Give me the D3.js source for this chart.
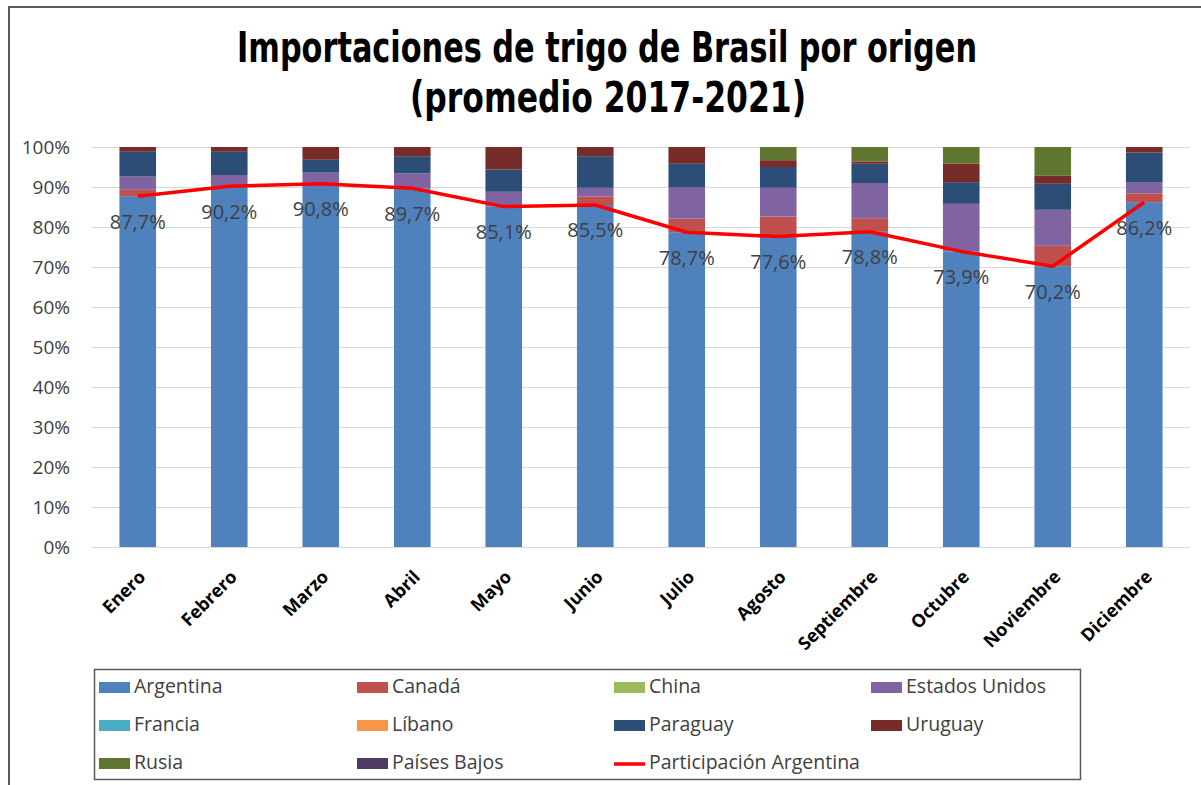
<!DOCTYPE html>
<html>
<head>
<meta charset="utf-8">
<script src="https://cdn.jsdelivr.net/npm/d3@7"></script>
<style>
  body { margin: 0; background: #fff; }
  svg { display: block; }
</style>
</head>
<body>
<div id="chart"></div>
<script>
// data (shares in %)
const months = ["Enero", "Febrero", "Marzo", "Abril", "Mayo", "Junio", "Julio", "Agosto", "Septiembre", "Octubre", "Noviembre", "Diciembre"];
const argentina = [87.7, 90.2, 90.8, 89.7, 85.1, 85.5, 78.7, 77.6, 78.8, 73.9, 70.2, 86.2];
const canada = [1.6, 0, 0, 0, 0, 2.1, 3.4, 5.0, 3.4, 0, 5.1, 2.2];
const china = [0, 0, 0, 0, 0, 0, 0, 0, 0, 0, 0, 0];
const estadosUnidos = [3.3, 2.8, 2.8, 3.7, 3.7, 2.2, 7.9, 7.2, 8.8, 11.9, 9.0, 2.7];
const francia = [0, 0, 0, 0, 0, 0, 0, 0, 0, 0, 0, 0];
const libano = [0, 0, 0, 0, 0, 0, 0, 0, 0, 0, 0, 0];
const paraguay = [6.2, 5.8, 3.2, 4.3, 5.6, 7.9, 5.8, 5.2, 4.8, 5.4, 6.5, 7.5];
const uruguay = [1.2, 1.2, 3.2, 2.3, 5.6, 2.3, 4.2, 1.7, 0.6, 4.6, 2.0, 1.4];
const rusia = [0, 0, 0, 0, 0, 0, 0, 3.3, 3.6, 4.2, 7.2, 0];
const paisesBajos = [0, 0, 0, 0, 0, 0, 0, 0, 0, 0, 0, 0];
const yTicks = [0, 10, 20, 30, 40, 50, 60, 70, 80, 90, 100];

const series = [
    { name: "Argentina", values: argentina, color: "#4F81BD" },
    { name: "Canadá", values: canada, color: "#C0504D" },
    { name: "China", values: china, color: "#9BBB59" },
    { name: "Estados Unidos", values: estadosUnidos, color: "#8064A2" },
    { name: "Francia", values: francia, color: "#4BACC6" },
    { name: "Líbano", values: libano, color: "#F79646" },
    { name: "Paraguay", values: paraguay, color: "#2C4D75" },
    { name: "Uruguay", values: uruguay, color: "#772C2A" },
    { name: "Rusia", values: rusia, color: "#5F7530" },
    { name: "Países Bajos", values: paisesBajos, color: "#4D3B62" }
];

// set dimensions
const width = 1201,
    height = 785,
    margin = { top: 147, right: 11, bottom: 238, left: 92 };

const svg = d3.select("#chart")
    .append("svg")
    .attr("width", width)
    .attr("height", height)
    .style("font-family", "'Open Sans', sans-serif");

// chart frame
svg.append("rect")
    .attr("x", 9).attr("y", 7)
    .attr("width", 1300).attr("height", 900)
    .attr("fill", "none")
    .attr("stroke", "#595959")
    .attr("stroke-width", 2);

// title
svg.append("text")
    .attr("x", 607).attr("y", 62)
    .attr("text-anchor", "middle")
    .attr("textLength", 740)
    .attr("lengthAdjust", "spacingAndGlyphs")
    .style("font-family", "'Liberation Sans Narrow', 'DejaVu Sans Condensed', sans-serif")
    .style("font-weight", "bold")
    .style("font-size", "43px")
    .text("Importaciones de trigo de Brasil por origen");
svg.append("text")
    .attr("x", 608).attr("y", 112)
    .attr("text-anchor", "middle")
    .attr("textLength", 396)
    .attr("lengthAdjust", "spacingAndGlyphs")
    .style("font-family", "'Liberation Sans Narrow', 'DejaVu Sans Condensed', sans-serif")
    .style("font-weight", "bold")
    .style("font-size", "43px")
    .text("(promedio 2017-2021)");

// scales
const xScale = d3.scaleBand()
    .domain(months)
    .range([margin.left, width - margin.right])
    .paddingInner(0.6)
    .paddingOuter(0.3);

const yScale = d3.scaleLinear()
    .domain([0, 100])
    .range([height - margin.bottom, margin.top]);

// gridlines
svg.append("g")
    .selectAll("line")
    .data(yTicks)
    .enter()
    .append("line")
    .attr("x1", margin.left)
    .attr("x2", 1190)
    .attr("y1", d => yScale(d) + 0.5)
    .attr("y2", d => yScale(d) + 0.5)
    .attr("stroke", "#D9D9D9")
    .attr("stroke-width", 1);

// y axis
const yAxis = d3.axisLeft(yScale)
    .tickValues(yTicks)
    .tickFormat(d => d + "%")
    .tickSize(0)
    .tickPadding(22);
const yG = svg.append("g")
    .attr("transform", `translate(${margin.left},0)`)
    .call(yAxis);
yG.select(".domain").remove();
yG.selectAll("text")
    .style("font-size", "19px")
    .style("fill", "#404040")
    .style("font-family", "'Open Sans', sans-serif");

// stacked bars
const table = months.map((m, i) => {
    const row = { month: m };
    series.forEach(s => { row[s.name] = s.values[i]; });
    return row;
});
const stack = d3.stack().keys(series.map(s => s.name));
const stacked = stack(table);

svg.append("g")
    .selectAll("g")
    .data(stacked)
    .enter()
    .append("g")
    .attr("fill", (d, i) => series[i].color)
    .selectAll("rect")
    .data(d => d)
    .enter()
    .append("rect")
    .attr("x", d => xScale(d.data.month))
    .attr("y", d => yScale(d[1]))
    .attr("width", xScale.bandwidth())
    .attr("height", d => yScale(d[0]) - yScale(d[1]));

// x axis labels
const xAxis = d3.axisBottom(xScale).tickSize(0).tickPadding(0);
const xG = svg.append("g")
    .attr("transform", `translate(0,${yScale(0)})`)
    .call(xAxis);
xG.select(".domain").remove();
xG.selectAll("text")
    .attr("text-anchor", "end")
    .attr("dy", 0)
    .attr("y", 0)
    .attr("transform", "translate(9,31) rotate(-45)")
    .style("font-size", "18px")
    .style("font-weight", "bold")
    .style("fill", "#000")
    .style("font-family", "'Open Sans', sans-serif");

// participation line
const cx = d => xScale(d) + xScale.bandwidth() / 2;
const line = d3.line()
    .x((d, i) => cx(months[i]))
    .y(d => yScale(d));

svg.append("path")
    .datum(argentina)
    .attr("d", line)
    .attr("fill", "none")
    .attr("stroke", "#FF0000")
    .attr("stroke-width", 3.5)
    .attr("stroke-linejoin", "round");

// data labels
svg.append("g")
    .selectAll("text")
    .data(argentina)
    .enter()
    .append("text")
    .attr("x", (d, i) => cx(months[i]))
    .attr("y", d => yScale(d) + 27)
    .attr("text-anchor", "middle")
    .attr("dominant-baseline", "middle")
    .style("font-size", "20px")
    .style("fill", "#404040")
    .text(d => d3.format(".1f")(d).replace(".", ",") + "%");

// legend
const legendItems = series.map(s => ({ name: s.name, color: s.color, type: "rect" }));
legendItems.push({ name: "Participación Argentina", color: "#FF0000", type: "line" });

const legend = svg.append("g").attr("id", "legend");
legend.append("rect")
    .attr("x", 94.5).attr("y", 669.5)
    .attr("width", 986).attr("height", 110)
    .attr("fill", "#fff")
    .attr("stroke", "#595959")
    .attr("stroke-width", 1.5);

const colX = [99, 357, 614, 871];
const rowY = [688, 726, 764];

const items = legend.selectAll(".item")
    .data(legendItems)
    .enter()
    .append("g")
    .attr("class", "item")
    .attr("transform", (d, i) => `translate(${colX[i % 4]},${rowY[Math.floor(i / 4)]})`);

items.filter(d => d.type === "rect")
    .append("rect")
    .attr("x", 0).attr("y", -6)
    .attr("width", 31).attr("height", 11)
    .attr("fill", d => d.color);

items.filter(d => d.type === "line")
    .append("line")
    .attr("x1", 0).attr("x2", 31)
    .attr("y1", 0).attr("y2", 0)
    .attr("stroke", d => d.color)
    .attr("stroke-width", 3.5);

items.append("text")
    .attr("x", 35)
    .attr("y", 0)
    .attr("dominant-baseline", "middle")
    .style("font-size", "19.5px")
    .style("fill", "#404040")
    .text(d => d.name);
</script>
</body>
</html>
